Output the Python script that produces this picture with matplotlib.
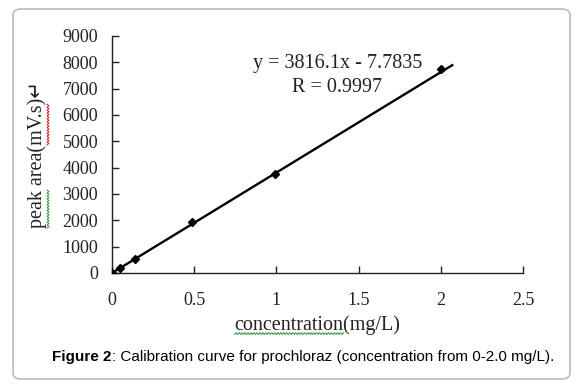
import numpy as np
import matplotlib.pyplot as plt
from matplotlib.patches import FancyBboxPatch
from matplotlib.lines import Line2D

# calibration data
conc = [0.0, 0.05, 0.14, 0.49, 0.99, 2.0]
area = [0, 190, 520, 1940, 3760, 7760]
slope, intercept = 3816.1, -7.7835
xticks = [0, 0.5, 1, 1.5, 2, 2.5]
xticklabels = ['0', '0.5', '1', '1.5', '2', '2.5']
yticks = [0, 1000, 2000, 3000, 4000, 5000, 6000, 7000, 8000, 9000]

serif = ['Liberation Serif', 'DejaVu Sans']
ink = '#222222'
W, H = 583, 387

fig = plt.figure(figsize=(5.83, 3.87), dpi=100)
ax = fig.add_axes([0.192, 0.295, 0.705, 0.612])

# fit line + points
x_fit = np.array([0.0, 2.07])
ax.plot(x_fit, slope * x_fit + intercept, color='black', lw=1.7, zorder=2)
ax.plot(conc, area, linestyle='none', marker='D', ms=4, color='black', zorder=3)

ax.set_xlim(0, 2.5)
ax.set_ylim(0, 9000)
ax.set_xticks(xticks)
ax.set_xticklabels(xticklabels)
ax.set_yticks(yticks)
for s in ['top', 'right']:
    ax.spines[s].set_visible(False)
for s in ['left', 'bottom']:
    ax.spines[s].set_linewidth(1.0)
    ax.spines[s].set_color(ink)
ax.tick_params(direction='in', length=5, width=1, colors=ink, labelsize=13)
ax.tick_params(axis='x', pad=14)
ax.tick_params(axis='y', pad=10)
for lab in ax.get_xticklabels() + ax.get_yticklabels():
    lab.set_family(serif)
    lab.set_color(ink)

lab_kw = dict(family=serif, fontsize=14.5, color=ink)
ax.set_xlabel('concentration(mg/L)', labelpad=4, **lab_kw)
ax.set_ylabel('peak area(mV.s)\u21b5', labelpad=11, **lab_kw)

ax.text(1.37, 7950, 'y = 3816.1x - 7.7835', family=serif, fontsize=14.5,
        ha='center', va='center', color=ink)
ax.text(1.37, 7030, 'R = 0.9997', family=serif, fontsize=14.5,
        ha='center', va='center', color=ink)

# caption
cap1 = fig.text(52 / W, 1 - 357 / H, 'Figure 2', fontsize=11, fontweight='bold',
                family='Liberation Sans', va='center')
fig.canvas.draw()
r = fig.canvas.get_renderer()
bb = cap1.get_window_extent(r)
fig.text(bb.x1 / W, 1 - 357 / H,
         ': Calibration curve for prochloraz (concentration from 0-2.0 mg/L).',
         fontsize=11, family='Liberation Sans', va='center')


# spell-check squiggles (as in the Word screenshot)
def text_len(s):
    t = fig.text(0, 0, s, **lab_kw)
    w = t.get_window_extent(r).width
    t.remove()
    return w


def squiggle(p0, p1, off, color, vertical=False):
    n = int(abs(p1 - p0) / 1.5) + 2
    t = np.linspace(p0, p1, n)
    o = off + np.where(np.arange(n) % 2 == 0, -0.9, 0.9)
    if vertical:
        xs, ys = o, t
    else:
        xs, ys = t, o
    fig.add_artist(Line2D(xs / W, ys / H, transform=fig.transFigure,
                          color=color, lw=0.8))


xb = ax.xaxis.label.get_window_extent(r)
squiggle(xb.x0, xb.x0 + text_len('concentration'), xb.y0 + 1, '#4a9a4a')

yb = ax.yaxis.label.get_window_extent(r)
squiggle(yb.y0, yb.y0 + text_len('peak'), yb.x1 + 1, '#4a9a4a', vertical=True)
s0 = yb.y0 + text_len('peak area(')
squiggle(s0, s0 + text_len('mV.s'), yb.x1 + 1, '#d03030', vertical=True)

# rounded frame round the whole figure
frame = FancyBboxPatch((13 / W, 1 - 379 / H), (570 - 13) / W, (379 - 9) / H,
                       boxstyle='round,pad=0,rounding_size=0.015',
                       transform=fig.transFigure, fill=False,
                       edgecolor='#bbbbbb', lw=1.2)
fig.patches.append(frame)

plt.savefig('out.png', dpi=100)
